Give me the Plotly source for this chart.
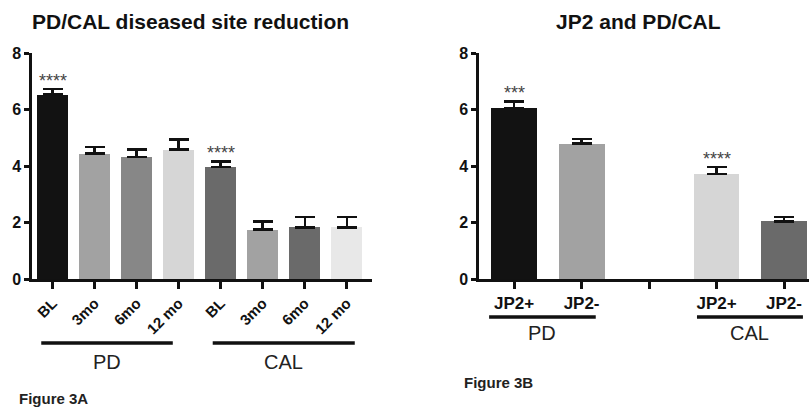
import plotly.graph_objects as go

# ---- data ----
a_labels = ["BL", "3mo", "6mo", "12 mo", "BL", "3mo", "6mo", "12 mo"]
a_values = [6.53, 4.44, 4.31, 4.58, 3.96, 1.75, 1.83, 1.83]
a_errors = [0.20, 0.23, 0.28, 0.35, 0.20, 0.29, 0.36, 0.36]
a_colors = ["#121212", "#a2a2a2", "#878787", "#d6d6d6", "#6a6a6a", "#a2a2a2", "#6a6a6a", "#e8e8e8"]
a_stars = ["****", "", "", "", "****", "", "", ""]

b_labels = ["JP2+", "JP2-", "", "JP2+", "JP2-"]
b_values = [6.05, 4.79, None, 3.72, 2.04]
b_errors = [0.24, 0.17, 0, 0.25, 0.15]
b_colors = ["#121212", "#a2a2a2", "#ffffff", "#d6d6d6", "#6a6a6a"]
b_stars = ["***", "", "", "****", ""]

groups_a = [("PD", -0.27, 2.86), ("CAL", 3.81, 7.19)]
groups_b = [("PD", -0.37, 1.21), ("CAL", 2.71, 4.28)]

y_ticks = [0, 2, 4, 6, 8]

FONT = "Arial, Liberation Sans, Helvetica, sans-serif"
AX = "#111111"

W, H = 809, 412

fig = go.Figure()

xa = list(range(len(a_labels)))
xb = list(range(len(b_labels)))

fig.add_trace(go.Bar(
    x=xa, y=a_values, width=0.74, marker=dict(color=a_colors, line=dict(width=0)),
    error_y=dict(type="data", array=a_errors, arrayminus=[0] * len(a_errors), symmetric=False,
                 color=AX, thickness=2.5, width=10),
    xaxis="x", yaxis="y", showlegend=False, hoverinfo="skip", cliponaxis=False))

fig.add_trace(go.Bar(
    x=xb, y=b_values, width=0.68, marker=dict(color=b_colors, line=dict(width=0)),
    error_y=dict(type="data", array=b_errors, arrayminus=[0] * len(b_errors), symmetric=False,
                 color=AX, thickness=2.5, width=10),
    xaxis="x2", yaxis="y2", showlegend=False, hoverinfo="skip", cliponaxis=False))

annotations = []
shapes = []

# significance stars
for i, s in enumerate(a_stars):
    if s:
        annotations.append(dict(x=xa[i], y=a_values[i] + a_errors[i], xref="x", yref="y",
                                text=s, showarrow=False, xanchor="center", yanchor="bottom", yshift=-4,
                                font=dict(family=FONT, size=18, color="#444444")))
for i, s in enumerate(b_stars):
    if s:
        annotations.append(dict(x=xb[i], y=b_values[i] + b_errors[i], xref="x2", yref="y2",
                                text=s, showarrow=False, xanchor="center", yanchor="bottom", yshift=-4,
                                font=dict(family=FONT, size=18, color="#444444")))

# group brackets
def add_groups(groups, xref, line_y, label_y):
    for name, x0, x1 in groups:
        shapes.append(dict(type="line", xref=xref, yref="paper", x0=x0, x1=x1,
                           y0=line_y, y1=line_y, line=dict(color=AX, width=3.5)))
        annotations.append(dict(x=(x0 + x1) / 2, y=label_y, xref=xref, yref="paper",
                                text=name, showarrow=False, xanchor="center", yanchor="middle",
                                font=dict(family=FONT, size=20, color="#222222")))

add_groups(groups_a, "x", 1 - 343 / H, 1 - 362 / H)
add_groups(groups_b, "x2", 1 - 317 / H, 1 - 333 / H)

# titles
annotations.append(dict(x=190 / W, y=1 - 22 / H, xref="paper", yref="paper",
                        text="<b>PD/CAL diseased site reduction</b>", showarrow=False,
                        xanchor="center", yanchor="middle",
                        font=dict(family=FONT, size=21, color="#111111")))
annotations.append(dict(x=638 / W, y=1 - 22 / H, xref="paper", yref="paper",
                        text="<b>JP2 and PD/CAL</b>", showarrow=False,
                        xanchor="center", yanchor="middle",
                        font=dict(family=FONT, size=21, color="#111111")))
annotations.append(dict(x=17 / W, y=1 - 398 / H, xref="paper", yref="paper",
                        text="<b>Figure 3A</b>", showarrow=False, xanchor="left", yanchor="middle",
                        font=dict(family=FONT, size=15, color="#222222")))
annotations.append(dict(x=462 / W, y=1 - 382 / H, xref="paper", yref="paper",
                        text="<b>Figure 3B</b>", showarrow=False, xanchor="left", yanchor="middle",
                        font=dict(family=FONT, size=15, color="#222222")))

ydom = [1 - 279 / H, 1 - 53 / H]

yax_common = dict(range=[0, 8], tickvals=y_ticks, showline=True, linecolor=AX, linewidth=2.5,
                  ticks="outside", ticklen=5, tickwidth=2.5, tickcolor=AX, showgrid=False,
                  zeroline=False, domain=ydom, automargin=False,
                  tickfont=dict(family=FONT, size=16, color="#111111", weight="bold"))

fig.update_layout(
    width=W, height=H, margin=dict(l=0, r=0, t=0, b=0, pad=0),
    paper_bgcolor="white", plot_bgcolor="white",
    bargap=0,
    xaxis=dict(domain=[32 / W, 372 / W], range=[-0.49, 7.6], tickvals=xa, ticktext=a_labels,
               tickangle=-45, showline=True, linecolor=AX, linewidth=2.5, ticks="outside",
               ticklen=7, tickwidth=2.5, tickcolor=AX, showgrid=False, zeroline=False,
               automargin=False,
               tickfont=dict(family=FONT, size=15, color="#111111", weight="bold"), anchor="y"),
    yaxis=dict(anchor="x", **yax_common),
    xaxis2=dict(domain=[479 / W, 1.0], range=[-0.52, 4.37], tickvals=xb, ticktext=b_labels,
                tickangle=0, showline=True, linecolor=AX, linewidth=2.5, ticks="outside",
                ticklen=7, tickwidth=2.5, tickcolor=AX, showgrid=False, zeroline=False,
                automargin=False,
                tickfont=dict(family=FONT, size=17, color="#111111", weight="bold"), anchor="y2"),
    yaxis2=dict(anchor="x2", **yax_common),
    annotations=annotations, shapes=shapes,
)

fig.write_html("out.html", config={"displayModeBar": False},
               post_script="document.body.style.margin='0px';")
